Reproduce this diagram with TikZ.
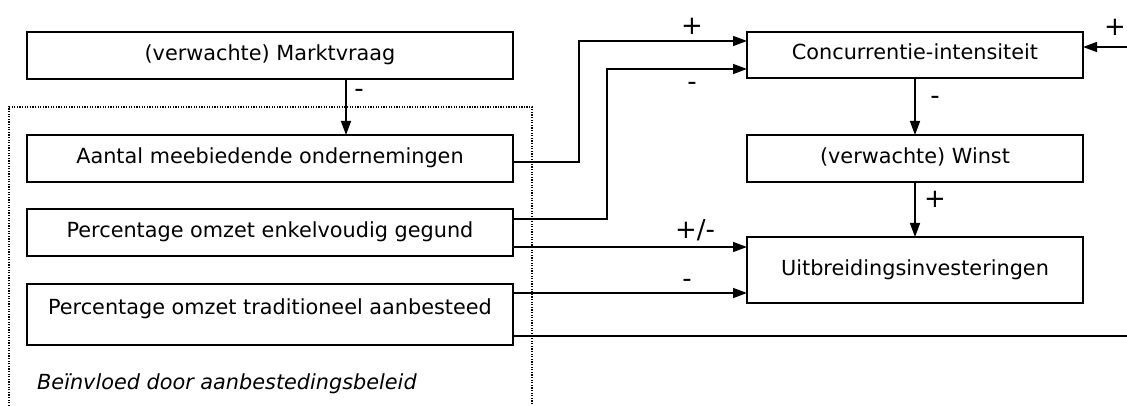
\documentclass[tikz,border=0pt]{standalone}
\usepackage{fontspec}
\setmainfont{DejaVu Sans}
\usetikzlibrary{arrows.meta}
\begin{document}
\begin{tikzpicture}[x=1pt,y=-1pt,
  box/.style={draw, line width=1.5pt, inner sep=0pt, outer sep=0pt,
    font=\fontsize{20.8pt}{24pt}\selectfont, text height=14.5pt, text depth=4.5pt},
  lbl/.style={inner sep=0pt, font=\fontsize{26pt}{30pt}\selectfont},
  arr/.style={line width=1.5pt, -{Triangle[length=14pt,width=10pt]}},
  conn/.style={line width=1.5pt},
  dotbox/.style={line width=1.4pt, dash pattern=on 1.3pt off 1.3pt}]
\useasboundingbox (0,0) rectangle (1127,406);
% left column
\node[box, minimum width=486pt, minimum height=47pt] (markt) at (270,55.5) {(verwachte) Marktvraag};
\node[box, minimum width=486pt, minimum height=47pt] (aantal) at (270,158.5) {Aantal meebiedende ondernemingen};
\node[box, minimum width=486pt, minimum height=47pt] (enkel) at (270,232.5) {Percentage omzet enkelvoudig gegund};
\node[box, minimum width=486pt, minimum height=61pt, text height=15pt, text depth=15pt] (trad) at (270,314.5) {Percentage omzet traditioneel aanbesteed};
\node[inner sep=0pt, anchor=base west, font=\fontsize{20.8pt}{24pt}\selectfont\itshape] (beleid) at (37,389) {Beïnvloed door aanbestedingsbeleid};
\draw[dotbox] (9,406) -- (9,107) -- (532,107) -- (532,406);
% right column
\node[box, minimum width=336pt, minimum height=46pt] (conc) at (915,55) {Concurrentie-intensiteit};
\node[box, minimum width=336pt, minimum height=47pt] (winst) at (915,158.5) {(verwachte) Winst};
\node[box, minimum width=336pt, minimum height=66pt] (uitbr) at (915,270) {Uitbreidingsinvesteringen};
% coordinates
\coordinate (a1) at ([yshift=-3.5pt]aantal.east);
\coordinate (e1) at ([yshift=13.5pt]enkel.east);
\coordinate (e2) at ([yshift=-14.5pt]enkel.east);
\coordinate (t1) at ([yshift=21.5pt]trad.east);
\coordinate (t2) at ([yshift=-21.5pt]trad.east);
\coordinate (R) at (1128,0);
\coordinate (cin) at (1128,47);
% connectors
\draw[arr] ([xshift=76pt]markt.south) -- ([xshift=76pt]aantal.north);
\draw[arr] (a1) -- ++(66,0) |- ([yshift=14pt]conc.west);
\draw[arr] (e1) -- ++(94,0) |- ([yshift=-14pt]conc.west);
\draw[arr] (e2) -- (e2 -| uitbr.west);
\draw[arr] (t1) -- (t1 -| uitbr.west);
\draw[conn] (t2) -- (t2 -| R);
\draw[arr] (cin) -- (cin -| conc.east);
\draw[arr] (conc.south) -- (winst.north);
\draw[arr] (winst.south) -- (uitbr.north);
% labels
\node[lbl] (l1) at (359,93) {-};
\node[lbl] (l2) at (692,26) {+};
\node[lbl] (l3) at (692,86) {-};
\node[lbl] (l4) at (695,230) {+/-};
\node[lbl] (l5) at (687,283) {-};
\node[lbl] (l6) at (1115,27) {+};
\node[lbl] (l7) at (935,100) {-};
\node[lbl] (l8) at (935,199) {+};
\end{tikzpicture}
\end{document}
